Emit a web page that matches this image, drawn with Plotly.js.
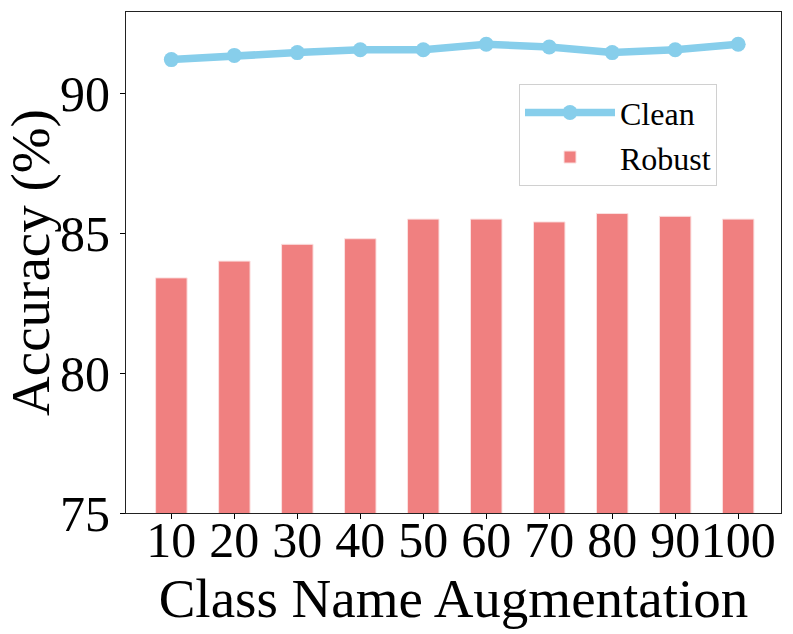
<!DOCTYPE html>
<html>
<head>
<meta charset="utf-8">
<script src="https://cdn.plot.ly/plotly-3.0.1.min.js"></script>
<style>
  html, body { margin: 0; padding: 0; background: #fff; }
  #plot { width: 793px; height: 634px; }
</style>
</head>
<body>
<div id="plot"></div>
<script>
// Class name augmentation counts
let classNames = ['10', '20', '30', '40', '50', '60', '70', '80', '90', '100'];

// Accuracy (%)
let cleanAcc = [91.2, 91.35, 91.45, 91.55, 91.55, 91.75, 91.65, 91.45, 91.55, 91.75];
let robustAcc = [83.4, 84.0, 84.6, 84.8, 85.5, 85.5, 85.4, 85.7, 85.6, 85.5];

let yTicks = [75, 80, 85, 90];

let serif = 'Liberation Serif, Times New Roman, serif';

// Line for clean accuracy
let trace1 = {
    x: classNames,
    y: cleanAcc,
    name: 'Clean',
    type: 'scatter',
    mode: 'lines+markers',
    line: { color: '#87CEEB', width: 7.5 },
    marker: { color: '#87CEEB', size: 15 },
};

// Bars for robust accuracy
let trace2 = {
    x: classNames,
    y: robustAcc,
    name: 'Robust',
    type: 'bar',
    marker: { color: '#F08080', line: { color: '#fbe0e0', width: 1 } },
};

let data = [trace1, trace2];

let layout = {
    width: 793,
    height: 634,
    margin: { l: 126, r: 12, t: 12, b: 121 },
    paper_bgcolor: '#fff',
    plot_bgcolor: '#fff',
    font: { family: serif, color: '#000' },
    bargap: 0.5,
    showlegend: true,
    legend: {
        x: 0.6, y: 0.856,
        xanchor: 'left', yanchor: 'top',
        bgcolor: '#fff',
        bordercolor: '#d0d0d0',
        borderwidth: 1,
        font: { family: serif, size: 32, color: '#000' },
        itemwidth: 90,
    },
    xaxis: {
        type: 'category',
        range: [-0.72, 9.68],
        tickangle: 0,
        ticks: 'outside',
        ticklen: 5,
        tickcolor: '#000',
        ticklabelstandoff: -22,
        showline: true,
        mirror: true,
        linecolor: '#222',
        linewidth: 1,
        showgrid: false,
        tickfont: { family: serif, size: 50 },
        title: { text: 'Class Name Augmentation', font: { family: serif, size: 55 }, standoff: 8 },
        automargin: false,
    },
    yaxis: {
        range: [75, 92.9],
        tickvals: yTicks,
        ticks: 'outside',
        ticklen: 5,
        tickcolor: '#000',
        showline: true,
        mirror: true,
        linecolor: '#222',
        linewidth: 1,
        showgrid: false,
        zeroline: false,
        tickfont: { family: serif, size: 50 },
        title: { text: 'Accuracy (%)', font: { family: serif, size: 55 }, standoff: 0 },
        automargin: false,
    },
};

Plotly.newPlot('plot', data, layout, { displayModeBar: false });
</script>
</body>
</html>
